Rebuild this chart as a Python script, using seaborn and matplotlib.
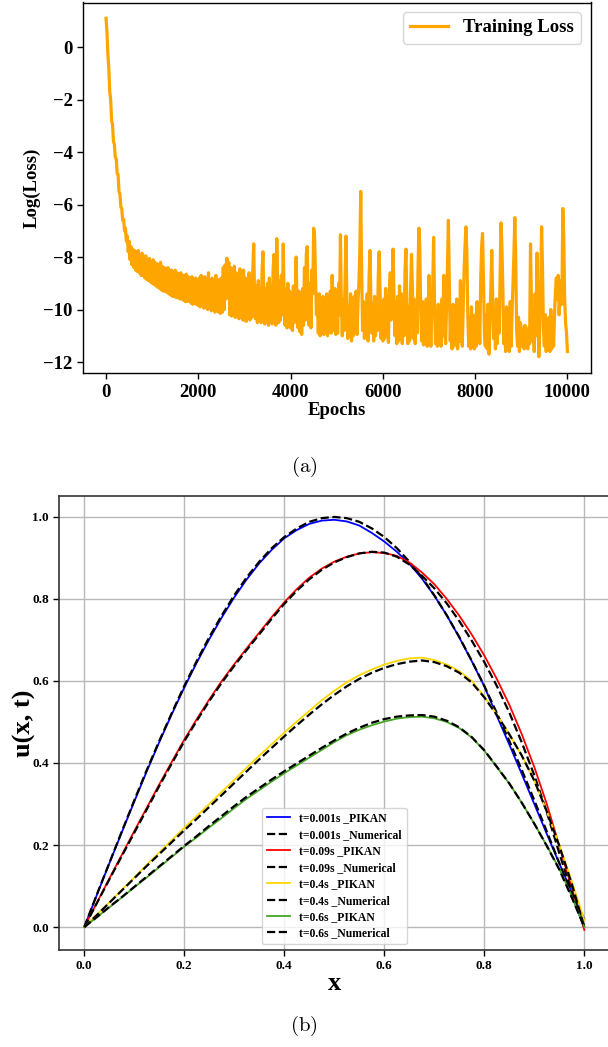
import numpy as np
import matplotlib
matplotlib.use("Agg")
import matplotlib.pyplot as plt
import seaborn as sns

# ---------------- data: (a) training loss (one value every 20 epochs) ----------------
epochs = np.arange(0, 10001, 20)
loss_values = [
    # 0 - 980
    1.10, 0.55, -0.30, -0.80, -1.70, -2.00, -2.80, -2.95, -3.60, -3.70,
    -4.20, -4.25, -4.80, -4.85, -5.50, -5.60, -6.10, -6.15, -6.60, -6.55,
    -7.00, -6.90, -7.40, -7.20, -7.80, -7.40, -8.10, -7.60, -8.30, -7.70,
    -8.40, -7.75, -8.50, -7.80, -8.55, -7.75, -8.60, -7.90, -8.70, -7.85,
    -8.70, -8.00, -8.80, -7.95, -8.85, -8.10, -8.90, -8.05, -8.95, -8.20,
    # 1000 - 1980
    -9.00, -8.10, -9.05, -8.20, -9.10, -8.25, -9.15, -8.30, -9.20, -8.20,
    -9.25, -8.35, -9.30, -8.40, -9.30, -8.45, -9.35, -8.40, -9.40, -8.50,
    -9.45, -8.50, -9.50, -8.55, -9.50, -8.50, -9.55, -8.60, -9.55, -8.65,
    -9.60, -8.60, -9.60, -8.70, -9.65, -8.70, -9.70, -8.65, -9.70, -8.75,
    -9.65, -8.80, -9.75, -8.75, -9.80, -8.85, -9.75, -8.80, -9.80, -8.90,
    # 2000 - 2980
    -9.85, -8.80, -9.90, -8.70, -9.85, -8.90, -9.95, -8.75, -9.90, -8.85,
    -10.00, -8.60, -9.95, -8.90, -10.05, -8.80, -10.00, -8.95, -10.10, -8.70,
    -10.05, -9.00, -10.10, -8.85, -10.15, -8.80, -10.10, -8.40, -10.00, -8.30,
    -9.60, -8.05, -9.20, -8.20, -10.20, -8.40, -10.25, -8.70, -10.20, -8.35,
    -10.30, -8.60, -10.25, -8.80, -10.35, -8.45, -10.30, -8.70, -10.40, -8.50,
    # 3000 - 3980
    -10.40, -8.80, -10.45, -9.00, -10.30, -8.60, -10.40, -9.20, -10.30, -8.50,
    -7.50, -9.60, -10.35, -9.10, -10.50, -8.90, -10.40, -9.30, -10.50, -8.60,
    -7.80, -9.50, -10.55, -9.20, -10.40, -9.00, -10.60, -8.80, -10.45, -9.10,
    -10.55, -8.50, -7.90, -9.80, -10.60, -7.30, -9.20, -10.50, -8.90, -10.40,
    -8.70, -10.20, -7.50, -9.60, -10.60, -9.20, -10.70, -9.00, -10.65, -9.30,
    # 4000 - 4980
    -10.70, -9.40, -10.80, -9.10, -10.50, -9.60, -8.00, -9.90, -10.70, -9.30,
    -10.85, -9.50, -10.95, -9.20, -10.60, -8.40, -10.40, -7.90, -7.60, -9.80,
    -10.60, -9.00, -10.70, -8.50, -9.40, -6.90, -7.20, -8.80, -10.20, -9.60,
    -10.90, -9.40, -11.00, -9.80, -10.80, -9.50, -10.95, -9.70, -10.70, -9.40,
    -11.00, -9.60, -10.85, -9.30, -10.90, -8.70, -9.90, -10.80, -9.20, -10.95,
    # 5000 - 5980
    -9.50, -10.90, -9.00, -10.20, -7.15, -9.80, -11.00, -9.60, -10.80, -8.90,
    -7.20, -9.70, -11.10, -9.90, -10.90, -9.40, -11.20, -9.80, -11.00, -9.50,
    -10.80, -9.30, -10.95, -9.80, -9.00, -7.80, -5.50, -8.60, -10.80, -9.70,
    -11.10, -9.90, -10.90, -9.40, -11.20, -8.80, -7.75, -9.60, -10.90, -9.80,
    -11.20, -9.50, -11.00, -9.70, -10.80, -8.70, -7.80, -9.40, -11.10, -9.90,
    # 6000 - 6980
    -11.20, -9.60, -11.10, -9.20, -10.80, -9.50, -11.25, -9.30, -8.60, -10.40,
    -9.60, -7.70, -9.40, -11.00, -9.70, -11.30, -9.50, -11.20, -9.10, -10.90,
    -9.40, -11.30, -9.60, -11.00, -8.50, -7.70, -9.80, -11.30, -9.90, -11.20,
    -9.30, -7.90, -9.20, -11.10, -9.60, -11.30, -9.80, -10.90, -8.60, -6.90,
    -7.60, -10.10, -11.20, -9.70, -11.35, -10.00, -11.10, -9.60, -11.40, -10.20,
    # 7000 - 7980
    -8.70, -10.30, -11.40, -10.00, -9.20, -7.25, -9.90, -11.30, -10.10, -11.40,
    -9.80, -11.20, -10.30, -11.40, -9.60, -11.00, -8.70, -10.80, -11.30, -9.90,
    -8.30, -6.60, -8.90, -11.20, -10.10, -11.50, -9.80, -11.40, -10.40, -11.30,
    -9.60, -11.50, -10.00, -11.20, -8.90, -10.70, -11.40, -10.00, -8.50, -7.60,
    -6.85, -7.80, -10.20, -11.40, -10.30, -11.50, -9.90, -11.30, -10.60, -11.50,
    # 8000 - 8980
    -10.20, -11.40, -9.70, -11.20, -10.00, -11.30, -8.90, -7.60, -7.10, -8.80,
    -10.90, -11.40, -10.20, -11.50, -9.80, -11.70, -10.40, -9.20, -7.75, -9.60,
    -11.10, -10.00, -11.50, -9.60, -11.30, -10.10, -10.90, -8.80, -6.70, -7.60,
    -9.20, -11.30, -10.20, -11.60, -9.90, -11.20, -10.40, -11.60, -9.70, -11.40,
    -10.10, -9.00, -7.90, -6.50, -8.20, -10.80, -11.40, -10.30, -11.60, -10.50,
    # 9000 - 10000
    -10.70, -11.40, -10.80, -11.50, -10.60, -11.40, -10.90, -11.50, -10.70, -11.30,
    -7.50, -9.80, -11.20, -10.20, -11.60, -9.40, -11.00, -7.85, -9.90, -11.80,
    -10.60, -9.20, -6.85, -8.40, -10.80, -11.40, -10.20, -11.60, -10.50, -11.30,
    -10.30, -11.60, -10.00, -11.50, -10.60, -11.40, -10.20, -9.30, -8.80, -9.60,
    -8.70, -10.20, -9.40, -8.90, -9.80, -6.15, -7.20, -9.60, -10.50, -10.90,
    -11.60,
]
assert len(loss_values) == len(epochs)

loss_xticks = [0, 2000, 4000, 6000, 8000, 10000]
loss_yticks = [0, -2, -4, -6, -8, -10, -12]

# ---------------- data: (b) u(x, t) ----------------
x_vals = np.round(np.arange(41) * 0.025, 3)

u_pikan_t0001 = [0.000, 0.078, 0.155, 0.231, 0.306, 0.380, 0.451, 0.519, 0.584, 0.645, 0.702,
                 0.755, 0.804, 0.848, 0.887, 0.920, 0.948, 0.968, 0.983, 0.991, 0.993, 0.989,
                 0.979, 0.961, 0.940, 0.915, 0.886, 0.850, 0.808, 0.760, 0.706, 0.648, 0.587,
                 0.515, 0.445, 0.373, 0.300, 0.227, 0.155, 0.085, 0.020]
u_num_t0001 = [0.000, 0.079, 0.156, 0.233, 0.309, 0.383, 0.454, 0.522, 0.588, 0.649, 0.707,
               0.760, 0.809, 0.853, 0.891, 0.924, 0.951, 0.972, 0.988, 0.997, 1.000, 0.997,
               0.988, 0.972, 0.951, 0.924, 0.891, 0.853, 0.809, 0.760, 0.707, 0.649, 0.588,
               0.522, 0.454, 0.383, 0.309, 0.233, 0.156, 0.079, 0.000]

u_pikan_t009 = [0.000, 0.059, 0.118, 0.176, 0.234, 0.291, 0.348, 0.403, 0.457, 0.507, 0.555,
                0.600, 0.641, 0.680, 0.718, 0.756, 0.792, 0.824, 0.852, 0.874, 0.891, 0.903,
                0.911, 0.914, 0.912, 0.905, 0.889, 0.865, 0.836, 0.800, 0.759, 0.713, 0.662,
                0.605, 0.542, 0.470, 0.390, 0.300, 0.198, 0.095, -0.007]
u_num_t009 = [0.000, 0.058, 0.116, 0.173, 0.230, 0.287, 0.344, 0.399, 0.453, 0.503, 0.551,
              0.596, 0.637, 0.676, 0.714, 0.752, 0.788, 0.820, 0.848, 0.871, 0.889, 0.902,
              0.911, 0.915, 0.913, 0.903, 0.884, 0.857, 0.826, 0.789, 0.746, 0.698, 0.646,
              0.588, 0.523, 0.450, 0.370, 0.280, 0.180, 0.085, 0.000]

u_pikan_t04 = [0.000, 0.030, 0.060, 0.091, 0.121, 0.152, 0.182, 0.212, 0.242, 0.271, 0.300,
               0.330, 0.359, 0.389, 0.418, 0.446, 0.474, 0.501, 0.527, 0.553, 0.576, 0.597,
               0.614, 0.628, 0.640, 0.649, 0.655, 0.657, 0.651, 0.640, 0.624, 0.600, 0.562,
               0.518, 0.470, 0.418, 0.357, 0.282, 0.200, 0.112, 0.017]
u_num_t04 = [0.000, 0.029, 0.059, 0.089, 0.119, 0.149, 0.178, 0.207, 0.236, 0.264, 0.293,
             0.322, 0.351, 0.380, 0.409, 0.437, 0.465, 0.492, 0.518, 0.543, 0.566, 0.587,
             0.605, 0.620, 0.632, 0.641, 0.647, 0.650, 0.646, 0.636, 0.620, 0.596, 0.560,
             0.517, 0.470, 0.418, 0.357, 0.282, 0.198, 0.105, 0.000]

u_pikan_t06 = [0.000, 0.024, 0.048, 0.072, 0.097, 0.121, 0.146, 0.171, 0.196, 0.219, 0.243,
               0.266, 0.290, 0.313, 0.334, 0.355, 0.375, 0.394, 0.413, 0.432, 0.451, 0.468,
               0.481, 0.492, 0.501, 0.508, 0.512, 0.513, 0.509, 0.500, 0.485, 0.462, 0.430,
               0.390, 0.350, 0.303, 0.252, 0.198, 0.142, 0.075, 0.000]
u_num_t06 = [0.000, 0.024, 0.049, 0.073, 0.098, 0.123, 0.148, 0.173, 0.198, 0.222, 0.247,
             0.271, 0.295, 0.318, 0.339, 0.360, 0.380, 0.399, 0.418, 0.437, 0.455, 0.472,
             0.486, 0.498, 0.507, 0.513, 0.516, 0.517, 0.513, 0.503, 0.487, 0.463, 0.431,
             0.391, 0.350, 0.303, 0.252, 0.198, 0.140, 0.072, 0.000]

time_labels = ["t=0.001s", "t=0.09s", "t=0.4s", "t=0.6s"]
pikan_series = [u_pikan_t0001, u_pikan_t009, u_pikan_t04, u_pikan_t06]
num_series = [u_num_t0001, u_num_t009, u_num_t04, u_num_t06]
pikan_colors = ["#0000FF", "#FF0000", "#FFD700", "#45A825"]
u_ticks = [0.0, 0.2, 0.4, 0.6, 0.8, 1.0]

# ---------------- styling ----------------
plt.rcParams["font.family"] = ["Liberation Serif", "DejaVu Serif"]
plt.rcParams["font.weight"] = "bold"
plt.rcParams["axes.labelweight"] = "bold"
plt.rcParams["mathtext.fontset"] = "cm"
plt.rcParams["path.simplify"] = False

W, H = 608, 1047
fig = plt.figure(figsize=(W / 100, H / 100), dpi=100)

# ---- (a) ----
ax1 = fig.add_axes([83 / W, 1 - 373.3 / H, (590.5 - 83) / W, (373.3 - 2.5) / H])
sns.lineplot(x=epochs, y=loss_values, ax=ax1, color="#FFA500", lw=2.3,
             label="Training Loss")
ax1.set_xlim(-500, 10500)
ax1.set_ylim(-12.43, 1.70)
ax1.set_xticks(loss_xticks)
ax1.set_yticks(loss_yticks)
ax1.set_xticklabels([str(v) for v in loss_xticks])
ax1.set_yticklabels([str(v).replace("-", "\u2212") for v in loss_yticks])
ax1.tick_params(labelsize=13.5, width=1.0, length=4)
for lbl in ax1.get_xticklabels() + ax1.get_yticklabels():
    lbl.set_fontweight("bold")
ax1.set_xlabel("Epochs", fontsize=13.5, fontweight="bold", labelpad=1)
ax1.set_ylabel("Log(Loss)", fontsize=13.5, fontweight="bold", labelpad=2)
for sp in ax1.spines.values():
    sp.set_color("black")
    sp.set_linewidth(1.0)
ax1.legend(loc="upper right", prop={"size": 13.5, "weight": "bold"},
           edgecolor="#cccccc", handlelength=2.0)

fig.text(0.5, 1 - 467 / H, r"$\mathrm{(a)}$", ha="center", va="center", fontsize=15)

# ---- (b) ----
ax2 = fig.add_axes([59.3 / W, 1 - 950 / H, 550 / W, (950 - 496) / H])
for lab, pk, nm, col in zip(time_labels, pikan_series, num_series, pikan_colors):
    sns.lineplot(x=x_vals, y=pk, ax=ax2, color=col, lw=1.3, label=f"{lab} _PIKAN")
    sns.lineplot(x=x_vals, y=nm, ax=ax2, color="black", lw=1.6, linestyle="--",
                 label=f"{lab} _Numerical")
ax2.set_xlim(-0.05, 1.05)
ax2.set_ylim(-0.056, 1.051)
ax2.set_xticks(u_ticks)
ax2.set_yticks(u_ticks)
ax2.set_xticklabels([f"{v:.1f}" for v in u_ticks])
ax2.set_yticklabels([f"{v:.1f}" for v in u_ticks])
ax2.tick_params(labelsize=9.5, width=1.0, length=4)
for lbl in ax2.get_xticklabels() + ax2.get_yticklabels():
    lbl.set_fontweight("bold")
ax2.grid(True, color="#b8b8b8", lw=1.0)
ax2.set_axisbelow(True)
ax2.set_xlabel("x", fontsize=19, fontweight="bold", labelpad=0)
ax2.set_ylabel("u(x, t)", fontsize=19, fontweight="bold", labelpad=-3)
for sp in ax2.spines.values():
    sp.set_color("#333333")
    sp.set_linewidth(1.2)
ax2.legend(loc="lower center", prop={"size": 8.4, "weight": "bold"},
           edgecolor="#cccccc", handlelength=2.0, labelspacing=0.38)

fig.text(0.5, 1 - 1026 / H, r"$\mathrm{(b)}$", ha="center", va="center", fontsize=15)

fig.savefig("out.png", dpi=100)
